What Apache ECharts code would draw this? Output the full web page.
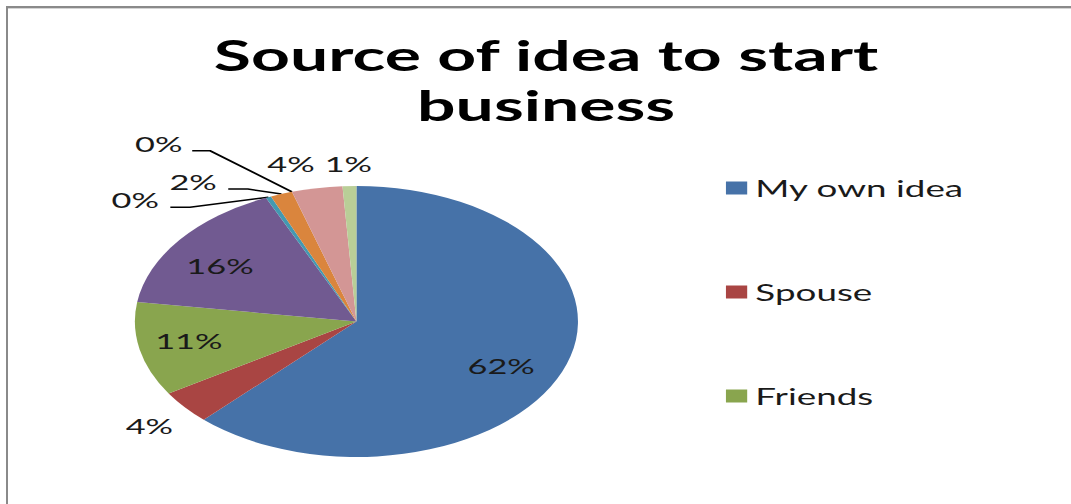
<!DOCTYPE html>
<html>
<head>
<meta charset="utf-8">
<script src="https://cdn.jsdelivr.net/npm/echarts@6/dist/echarts.min.js"></script>
<style>
  html, body { margin: 0; padding: 0; background: #fff; }
  #frame { position: relative; width: 1071px; height: 504px; overflow: hidden; background: #fff; }
  /* the chart is laid out in a narrower frame and stretched sideways */
  #chart { position: absolute; left: 0; top: 0; width: 655px; height: 504px;
           transform: scaleX(1.635); transform-origin: 0 0; }
  .edge { position: absolute; background: #8a8a8a; }
  .edge.top { left: 6px; right: 0; top: 6px; height: 2px; }
  .edge.top2 { left: 8px; right: 0; top: 8px; height: 1px; background: #d4d4d4; }
  .edge.left { left: 6px; top: 6px; bottom: 0; width: 2px; }
</style>
</head>
<body>
<div id="frame">
  <div id="chart"></div>
  <div class="edge top"></div>
  <div class="edge top2"></div>
  <div class="edge left"></div>
</div>
<script>
// Source of idea to start business (share of respondents, %)
const categories = ['My own idea', 'Spouse', 'Friends', 'Source 4', 'Source 5', 'Source 6', 'Source 7', 'Source 8', 'Source 9'];
const shares = [62.1, 4.0, 11.2, 16.0, 0.4, 1.6, 0, 3.7, 1.0];
const legendItems = ['My own idea', 'Spouse', 'Friends'];
const sliceColors = ['#4672A8', '#A94543', '#89A54E', '#715A91', '#4399B1', '#DA853D', '#94AACF', '#D39695', '#B9CE97'];

// pie geometry in the chart's own (unstretched) frame
const PIE_CX = 218, PIE_CY = 321.5, PIE_R = 135.5;

// where each percentage sits: at k x radius, turned a few degrees off the
// slice's mid-angle, or pulled out with a leader line (elbow offset from the
// rim point, then a short horizontal run and a gap before the text)
const labelPlacement = [
  { k: 0.73, turn: 4.7 },
  { k: 1.21, turn: -0.2 },
  { k: 0.77, turn: 1.2 },
  { k: 0.74, turn: -3.4 },
  { elbow: [-48, 10], run: 12, gap: 7 },
  { elbow: [-20.5, -5], run: 12, gap: 7 },
  { elbow: [-50, -41], run: 11, gap: 6 },
  { k: 1.2, turn: -4 },
  { k: 1.163, turn: 0 }
];

const total = shares.reduce((s, v) => s + v, 0);
let acc = 0;
const midAngles = shares.map(v => {
  const a = (acc + v / 2) / total * Math.PI * 2;
  acc += v;
  return a;
});
const rim = (a, r) => [PIE_CX + r * Math.sin(a), PIE_CY - r * Math.cos(a)];

const chart = echarts.init(document.getElementById('chart'), null, { renderer: 'svg' });
chart.setOption({
  animation: false,
  backgroundColor: 'transparent',
  title: {
    text: 'Source of idea to start\nbusiness',
    left: 334,
    top: 30,
    padding: 0,
    textAlign: 'center',
    textStyle: { fontFamily: 'Lato', fontWeight: 'bold', fontSize: 41.5, lineHeight: 50, color: '#000' }
  },
  legend: {
    orient: 'vertical',
    left: 444,
    top: 176,
    padding: 0,
    itemWidth: 13,
    itemHeight: 13,
    itemGap: 80,
    icon: 'rect',
    selectedMode: false,
    data: legendItems,
    textStyle: { fontFamily: 'Lato', fontSize: 22.5, lineHeight: 24, color: '#1a1a1a' }
  },
  series: [{
    type: 'pie',
    center: [PIE_CX, PIE_CY],
    radius: PIE_R,
    startAngle: 90,
    clockwise: true,
    silent: true,
    avoidLabelOverlap: false,
    percentPrecision: 0,
    label: { show: true, formatter: '{d}%', fontFamily: 'Lato', fontSize: 21, color: '#1a1a1a' },
    labelLine: { show: true, length: 10, length2: 10, lineStyle: { color: '#000', width: 1.5 } },
    data: categories.map((name, i) => ({
      name,
      value: shares[i],
      itemStyle: { color: sliceColors[i] },
      label: { position: labelPlacement[i].elbow || labelPlacement[i].k > 1 ? 'outside' : 'inside' },
      labelLine: { show: !!labelPlacement[i].elbow }
    })),
    labelLayout: function (p) {
      const i = p.dataIndex;
      const pl = labelPlacement[i];
      const a = midAngles[i];
      if (pl.elbow) {
        const s = rim(a, PIE_R);
        const e = [s[0] + pl.elbow[0], s[1] + pl.elbow[1]];
        const end = [e[0] - pl.run, e[1]];
        return { x: end[0] - pl.gap, y: e[1] - 7, align: 'right', verticalAlign: 'middle', labelLinePoints: [s, e, end] };
      }
      const pt = rim(a + pl.turn * Math.PI / 180, pl.k * PIE_R);
      return { x: pt[0], y: pt[1], align: 'center', verticalAlign: 'middle' };
    }
  }]
});
</script>
</body>
</html>
